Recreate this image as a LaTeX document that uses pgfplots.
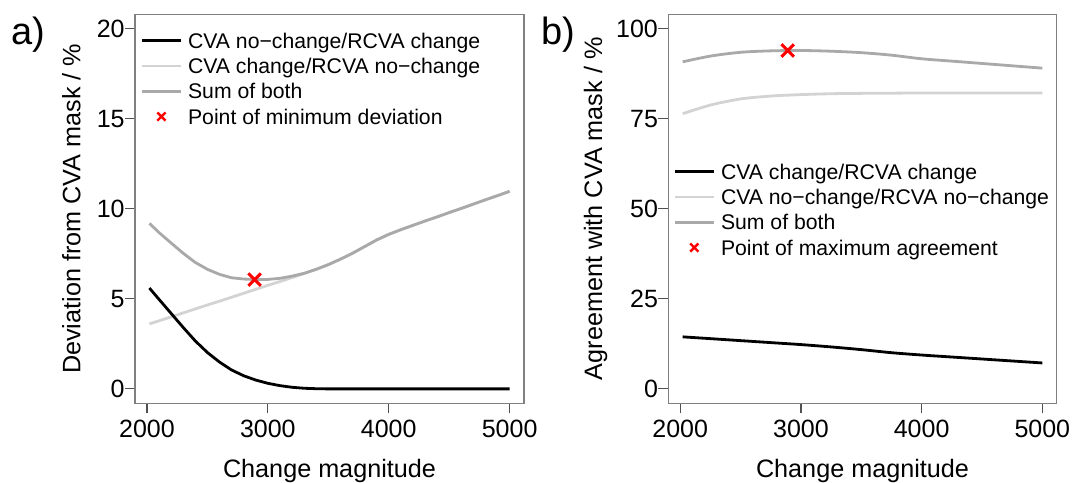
\documentclass[border=0pt]{standalone}
\usepackage{pgfplots}
\pgfplotsset{compat=1.18}
\usepackage{fontspec}
\setmainfont{Liberation Sans}

\definecolor{sumgray}{HTML}{A9A9A9}
\definecolor{lightline}{HTML}{D3D3D3}
\definecolor{boxgray}{HTML}{808080}
\definecolor{tickgray}{HTML}{505050}

\newcommand{\labelfont}{\fontsize{12.6}{15}\selectfont}

\pgfplotsset{
  panel/.style={
    scale only axis, width=194.5pt, height=194.5pt,
    xmin=1901, xmax=5119,
    xtick={2000,3000,4000,5000}, xticklabels={2000,3000,4000,5000},
    scaled ticks=false,
    tick align=outside, tick pos=left,
    major tick length=5pt,
    tick style={tickgray, line width=0.6pt},
    axis line style={boxgray, line width=0.6pt},
    tick label style={font=\fontsize{12.5}{15}\selectfont, inner sep=0pt},
    xticklabel style={anchor=north, yshift=-3.3pt},
    yticklabel style={anchor=east},
    every axis x label/.style={at={([yshift=-36.85pt]axis description cs:0.5,0)}, anchor=base, font=\labelfont},
    legend cell align=left,
    legend style={draw=none, fill=none, inner sep=0pt, outer sep=0pt,
      font=\fontsize{10.6}{12}\selectfont, row sep=2.17pt, column sep=3pt,
      nodes={inner sep=0pt, text height=9pt, text depth=1.48pt}},
    legend image code/.code={\draw[##1] (0pt,0pt) -- (19.3pt,0pt);},
    every axis plot/.append style={line width=1.4pt},
  }
}

\begin{document}
\begin{tikzpicture}
\path[use as bounding box] (0,0) rectangle (538pt,241pt);

% panel letters
\node[anchor=base west, inner sep=0pt, font=\fontsize{19}{22}\selectfont] at (5.4pt,218.75pt) {a)};
\node[anchor=base west, inner sep=0pt, font=\fontsize{19}{22}\selectfont] at (270.4pt,218.75pt) {b)};

% ---------- a) deviation ----------
\begin{axis}[panel, at={(67.5pt,39.35pt)}, anchor=south west,
  ymin=-0.8, ymax=20.8,
  ytick={0,5,10,15,20}, yticklabels={0,5,10,15,20},
  xlabel={Change magnitude},
  ylabel={Deviation from CVA mask / \%},
  every axis y label/.style={at={([xshift=-27.35pt]axis description cs:0,0.5)}, anchor=base, rotate=90, font=\labelfont},
  legend style={at={(0.01465,0.9591)}, anchor=north west}]

\addlegendimage{black, line width=1.4pt}
\addlegendentry{CVA no−change/RCVA change}
\addlegendimage{lightline, line width=1.4pt}
\addlegendentry{CVA change/RCVA no−change}
\addlegendimage{sumgray, line width=1.4pt}
\addlegendentry{Sum of both}
\addlegendimage{legend image code/.code={\draw[red, line width=1.2pt] plot[only marks, mark=x, mark size=2.9pt] coordinates {(9.65pt,0pt)};}}
\addlegendentry{Point of minimum deviation}

% CVA change / RCVA no-change
\addplot[lightline, forget plot] table {
x y
2020 3.61
2100 3.78
2200 4.00
2300 4.22
2400 4.44
2500 4.66
2600 4.87
2700 5.09
2800 5.31
2900 5.53
3000 5.75
3100 5.96
3200 6.18
3300 6.40
3400 6.64
3500 6.90
3600 7.20
3700 7.53
3800 7.90
3900 8.27
4000 8.58
4100 8.84
4200 9.08
4300 9.32
4400 9.55
4500 9.79
4600 10.02
4700 10.26
4800 10.50
4900 10.73
5000 10.97
};
% CVA no-change / RCVA change
\addplot[black, forget plot] table {
x y
2020 5.60
2100 4.97
2200 4.19
2300 3.41
2400 2.66
2500 2.02
2600 1.49
2700 1.05
2800 0.73
2900 0.49
3000 0.31
3100 0.18
3200 0.09
3300 0.035
3400 0.01
3500 0
4000 0
4500 0
5000 0
};
% sum of both
\addplot[sumgray, forget plot] table {
x y
2020 9.19
2100 8.68
2200 8.10
2300 7.53
2400 7.02
2500 6.64
2600 6.36
2700 6.17
2800 6.10
2900 6.07
3000 6.08
3100 6.14
3200 6.26
3300 6.42
3400 6.64
3500 6.90
3600 7.20
3700 7.53
3800 7.90
3900 8.27
4000 8.58
4100 8.84
4200 9.08
4300 9.32
4400 9.55
4500 9.79
4600 10.02
4700 10.26
4800 10.50
4900 10.73
5000 10.97
};
% minimum deviation
\addplot[red, only marks, mark=x, mark size=4.4pt, line width=1.5pt, forget plot] coordinates {(2890,6.07)};
\end{axis}

% ---------- b) agreement ----------
\begin{axis}[panel, at={(334.15pt,39.35pt)}, anchor=south west, width=194.2pt,
  ymin=-4, ymax=104,
  ytick={0,25,50,75,100}, yticklabels={0,25,50,75,100},
  xlabel={Change magnitude},
  ylabel={Agreement with CVA mask / \%},
  every axis y label/.style={at={([xshift=-33.15pt]axis description cs:0,0.5)}, anchor=base, rotate=90, font=\labelfont},
  legend style={at={(0.01365,0.6224)}, anchor=north west}]

\addlegendimage{black, line width=1.4pt}
\addlegendentry{CVA change/RCVA change}
\addlegendimage{lightline, line width=1.4pt}
\addlegendentry{CVA no−change/RCVA no−change}
\addlegendimage{sumgray, line width=1.4pt}
\addlegendentry{Sum of both}
\addlegendimage{legend image code/.code={\draw[red, line width=1.2pt] plot[only marks, mark=x, mark size=2.9pt] coordinates {(9.65pt,0pt)};}}
\addlegendentry{Point of maximum agreement}

% CVA change / RCVA change
\addplot[black, smooth, forget plot] table {
x y
2020 14.45
2250 13.95
2500 13.40
2750 12.85
3000 12.30
3250 11.65
3500 10.90
3750 10.05
4000 9.40
4250 8.85
4500 8.30
4750 7.75
5000 7.20
};
% CVA no-change / RCVA no-change
\addplot[lightline, smooth, forget plot] table {
x y
2020 76.40
2250 78.80
2500 80.50
2750 81.30
3000 81.70
3250 81.95
3500 82.05
3750 82.10
4000 82.15
4500 82.15
5000 82.15
};
% sum of both
\addplot[sumgray, smooth, forget plot] table {
x y
2020 90.80
2250 92.40
2500 93.45
2750 93.85
3000 93.95
3250 93.75
3500 93.35
3750 92.65
4000 91.65
4250 91.00
4500 90.35
4750 89.70
5000 89.05
};
% maximum agreement
\addplot[red, only marks, mark=x, mark size=4.4pt, line width=1.5pt, forget plot] coordinates {(2890,93.95)};
\end{axis}
\end{tikzpicture}
\end{document}
